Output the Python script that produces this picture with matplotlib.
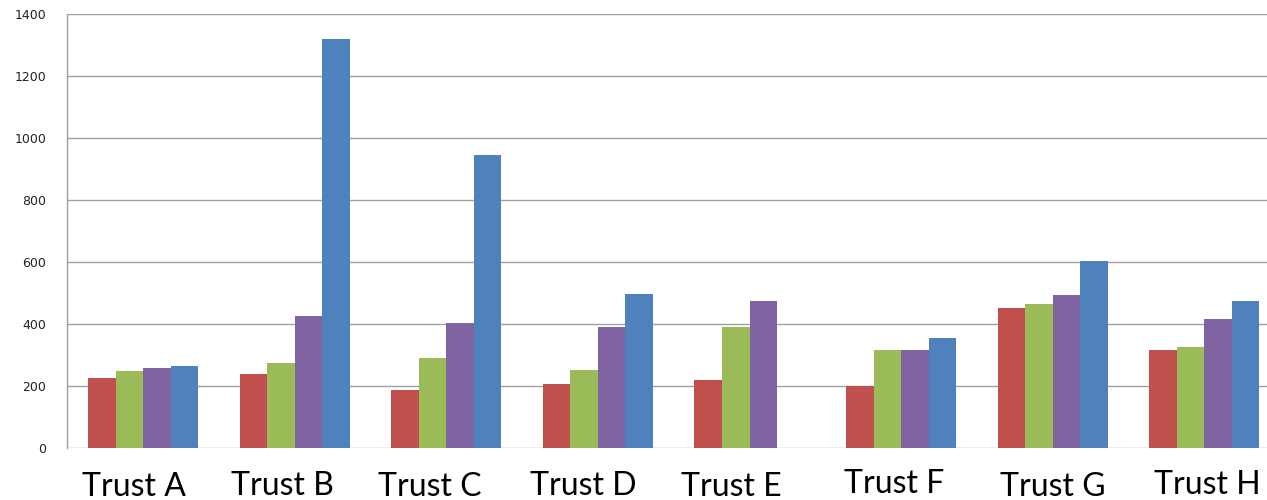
import matplotlib.pyplot as plt
import numpy as np

# values per trust, four series each
trusts = ["Trust A", "Trust B", "Trust C", "Trust D",
          "Trust E", "Trust F", "Trust G", "Trust H"]
series_red = [226, 239, 188, 206, 221, 202, 452, 317]
series_green = [250, 274, 291, 253, 392, 317, 465, 328]
series_purple = [258, 427, 403, 392, 474, 317, 496, 417]
series_blue = [264, 1321, 945, 497, 0, 357, 604, 475]

colors = ["#C0504D", "#9BBB59", "#8064A2", "#4F81BD"]

# the category captions sit a little off-centre, each at its own height
label_dx = [-0.062, -0.084, -0.108, -0.098, -0.118, -0.047, 0.003, 0.018]
label_base = [496, 495, 496, 495, 496, 493, 496, 494]   # baseline, pixels from top

W, H = 1267, 500
fig = plt.figure(figsize=(W / 100, H / 100), dpi=100)
ax = fig.add_axes([67.3 / W, (H - 448.3) / H, 8 * 151.6 / W, 434 / H])

x = np.arange(len(trusts))
bw = 0.1814
all_series = [series_red, series_green, series_purple, series_blue]
for k, vals in enumerate(all_series):
    ax.bar(x + (k - 1.5) * bw, vals, width=bw, color=colors[k],
           edgecolor="none", zorder=3)

ax.set_xlim(-0.5, len(trusts) - 0.5)
ax.set_ylim(0, 1400)
ax.set_yticks(range(0, 1401, 200))
ax.yaxis.grid(True, color="#A0A0A0", linewidth=1.0, zorder=0)
ax.set_axisbelow(True)
ax.tick_params(axis="y", length=0, pad=15, labelsize=9, labelcolor="#222222")
ax.tick_params(axis="x", length=0)
ax.set_xticks([])
for s in ["top", "right", "bottom"]:
    ax.spines[s].set_visible(False)
ax.spines["left"].set_color("#A0A0A0")
ax.spines["left"].set_linewidth(1.0)

for i, name in enumerate(trusts):
    # x in data units, y in figure pixels
    px, _ = ax.transData.transform((i + label_dx[i], 0))
    fig.text(px / W, 1 - label_base[i] / H, name, ha="center", va="baseline",
             fontsize=23, family=["Lato", "DejaVu Sans"], color="black")

fig.savefig("out.png", dpi=100)
